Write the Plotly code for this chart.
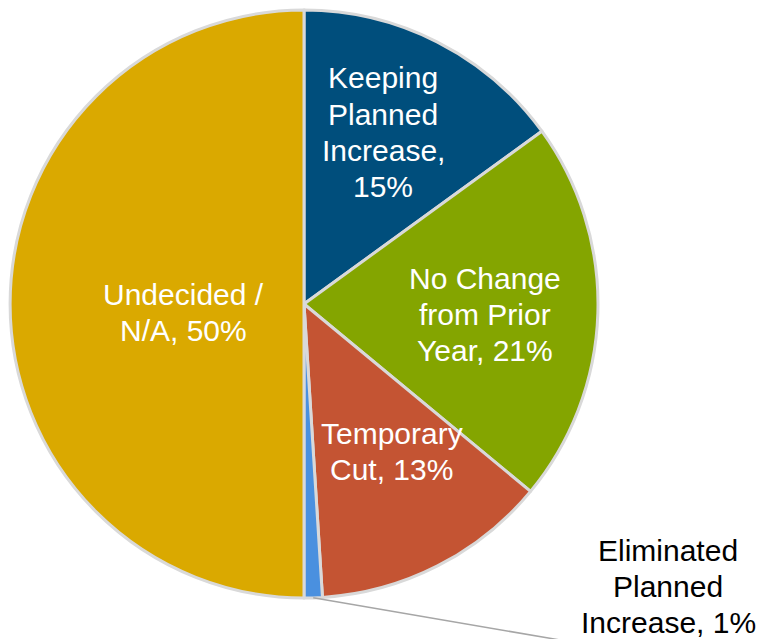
import plotly.graph_objects as go
import math

labels = ["Keeping Planned Increase", "No Change from Prior Year", "Temporary Cut",
          "Eliminated Planned Increase", "Undecided / N/A"]
values = [15, 21, 13, 1, 50]
colors = ["#004E7C", "#84A500", "#C45433", "#4A90DF", "#DAA900"]
label_lines = [["Keeping", "Planned", "Increase,", "15%"],
               ["No Change", "from Prior", "Year, 21%"],
               ["Temporary", "Cut, 13%"],
               ["Eliminated", "Planned", "Increase, 1%"],
               ["Undecided /", "N/A, 50%"]]
label_pos = [(383, 78), (485, 278), (392, 433), (668, 550), (183, 294)]  # first-line centre, px
label_color = ["white", "white", "white", "black", "white"]
LINE_GAP = 36

W, H = 765, 639
cx, cy, R = 304, 304, 294

fig = go.Figure(go.Pie(
    labels=labels, values=values, sort=False, direction="clockwise", rotation=0,
    marker=dict(colors=colors, line=dict(color="#D9D9D9", width=3)),
    textinfo="none", hoverinfo="label+percent", showlegend=False,
    domain=dict(x=[(cx - R) / W, (cx + R) / W], y=[1 - (cy + R) / H, 1 - (cy - R) / H]),
))

for lines, (px, py), c in zip(label_lines, label_pos, label_color):
    for i, t in enumerate(lines):
        fig.add_annotation(x=px / W, y=1 - (py + i * LINE_GAP) / H, xref="paper", yref="paper",
                           text=t, showarrow=False, align="center",
                           xanchor="center", yanchor="middle",
                           font=dict(family="Arial, Liberation Sans, sans-serif", size=30, color=c))

# leader line for the small slice, starting at its mid-angle on the rim
total = sum(values)
start = sum(values[:3]) / total * 360
mid = math.radians(start + values[3] / total * 360 / 2)
x0 = cx + R * math.sin(mid)
y0 = cy - R * math.cos(mid)
fig.add_shape(type="line", xref="paper", yref="paper",
              x0=x0 / W, y0=1 - y0 / H, x1=560 / W, y1=1 - 640 / H,
              line=dict(color="#A6A6A6", width=1.5))

fig.update_layout(width=W, height=H, margin=dict(l=0, r=0, t=0, b=0),
                  paper_bgcolor="white", plot_bgcolor="white")
fig.write_html("out.html")
